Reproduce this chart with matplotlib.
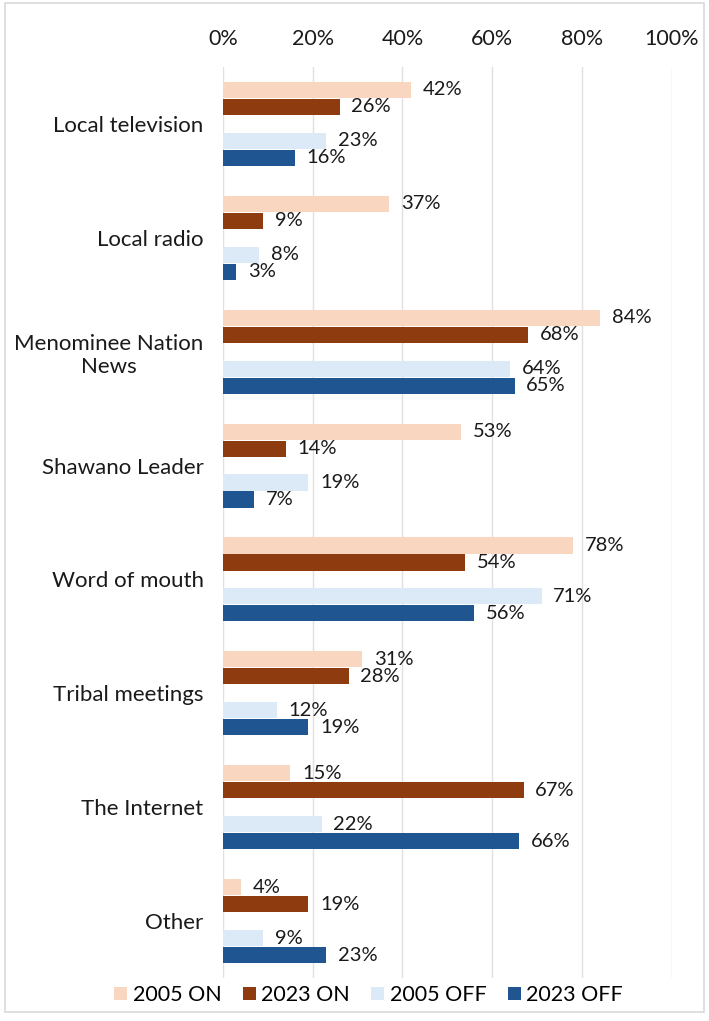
import matplotlib
matplotlib.use("Agg")
import matplotlib.pyplot as plt
import numpy as np
from matplotlib.patches import Rectangle, Patch

plt.rcParams['font.family'] = ['Lato', 'DejaVu Sans']

categories = ["Local television", "Local radio", "Menominee Nation\nNews",
              "Shawano Leader", "Word of mouth", "Tribal meetings",
              "The Internet", "Other"]
series_names = ["2005 ON", "2023 ON", "2005 OFF", "2023 OFF"]
on_2005 = [42, 37, 84, 53, 78, 31, 15, 4]
on_2023 = [26, 9, 68, 14, 54, 28, 67, 19]
off_2005 = [23, 8, 64, 19, 71, 12, 22, 9]
off_2023 = [16, 3, 65, 7, 56, 19, 66, 23]
x_ticks = [0, 20, 40, 60, 80, 100]
x_tick_labels = ["0%", "20%", "40%", "60%", "80%", "100%"]

colors = ["#F9D6C0", "#8E3C0F", "#DCEAF7", "#1F5591"]
series = [on_2005, on_2023, off_2005, off_2023]

fig = plt.figure(figsize=(7.09, 10.21), dpi=100)
fig.patches.append(Rectangle((0.007, 0.009), 0.986, 0.988, transform=fig.transFigure,
                             fill=False, edgecolor="#D9D9D9", linewidth=1.2))
ax = fig.add_axes([0.3145, 0.0421, 0.633, 0.8923])

slot = 0.149
offsets = [-2 * slot, -slot, slot, 2 * slot]
bar_h = 0.142
y = np.arange(len(categories))

for vals, off, col in zip(series, offsets, colors):
    ax.barh(y + off, vals, height=bar_h, color=col, zorder=3)
    for yi, v in zip(y, vals):
        ax.text(v + 2.6, yi + off, f"{v}%", ha="left", va="center",
                fontsize=14.5, color="#1a1a1a", zorder=4)

ax.set_xlim(0, 100)
ax.set_ylim(len(categories) - 0.5, -0.5)
ax.set_yticks(y)
ax.set_yticklabels(categories, fontsize=16, color="#1a1a1a", multialignment="center")
ax.set_xticks(x_ticks)
ax.set_xticklabels(x_tick_labels, fontsize=15.5, color="#1a1a1a")
ax.xaxis.tick_top()
ax.tick_params(axis="x", length=0, pad=13)
ax.tick_params(axis="y", length=0, pad=14)
ax.grid(axis="x", color="#E0E0E0", linewidth=1.0, zorder=0)
for s in ax.spines.values():
    s.set_visible(False)

handles = [Patch(facecolor=c, edgecolor="none") for c in colors]
fig.legend(handles, series_names, loc="center", bbox_to_anchor=(0.52, 0.0255),
           ncol=4, frameon=False, fontsize=15.5, handlelength=0.6, handleheight=0.6,
           handletextpad=0.25, columnspacing=1.0)

fig.savefig("out.png", dpi=100, facecolor="white")
